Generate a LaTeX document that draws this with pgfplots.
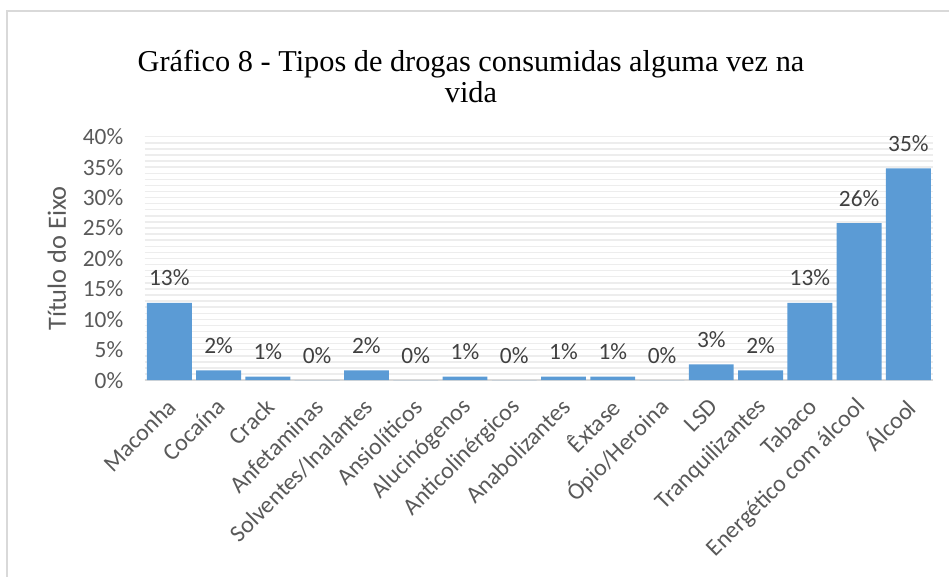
\documentclass[border=0pt]{standalone}
\usepackage{pgfplots}
\pgfplotsset{compat=1.18}
\usepackage{fontspec}
\setmainfont{Carlito}
\newfontfamily\titlefont{Liberation Serif}
\definecolor{barblue}{HTML}{5B9BD5}
\definecolor{txtgray}{HTML}{595959}
\definecolor{lblgray}{HTML}{404040}
\definecolor{gridgray}{HTML}{EDEDED}
\definecolor{framegray}{HTML}{D9D9D9}
\begin{document}
\begin{tikzpicture}
\begin{axis}[
  at={(145bp,197bp)}, anchor=south west,
  scale only axis, width=790bp, height=244bp,
  xmin=-0.5, xmax=15.5, ymin=0, ymax=40,
  ytick={0,5,...,40},
  minor ytick={0,1,...,40},
  /pgf/number format/assume math mode=true,
  yticklabel={\pgfmathprintnumber{\tick}\%},
  ymajorgrids, yminorgrids,
  major grid style={gridgray, line width=1.4bp},
  minor grid style={gridgray, line width=1.4bp},
  axis line style={draw=none},
  major tick length=0pt, minor tick length=0pt,
  xtick=data,
  xticklabels={Maconha,Cocaína,Crack,Anfetaminas,Solventes/Inalantes,Ansiolíticos,Alucinógenos,Anticolinérgicos,Anabolizantes,Êxtase,Ópio/Heroina,LSD,Tranquilizantes,Tabaco,Energético com álcool,Álcool},
  xticklabel style={rotate=45, anchor=east, font=\fontsize{24}{27}\selectfont, text=txtgray, xshift=-11bp, yshift=-18bp},
  yticklabel style={font=\fontsize{23.5}{27}\selectfont, text=txtgray, xshift=-18bp},
  ylabel={Título do Eixo},
  every axis y label/.style={at={(axis description cs:0,0.5)}, rotate=90, anchor=center, yshift=88bp, font=\fontsize{26.5}{30}\selectfont, text=txtgray},
  ybar, bar width=0.91,
  nodes near coords,
  point meta=explicit symbolic,
  every node near coord/.append style={font=\fontsize{23.5}{27}\selectfont, text=lblgray, anchor=center, yshift=25bp},
  clip=false,
]
\draw[framegray, line width=2bp] (axis cs:-0.5,0) -- (axis cs:15.5,0);
\addplot[fill=barblue, draw=none] table[x=x, y=y, meta=lab] {
x y lab
0 12.7 13\%
1 1.6 2\%
2 0.6 1\%
3 0 0\%
4 1.6 2\%
5 0 0\%
6 0.6 1\%
7 0 0\%
8 0.6 1\%
9 0.6 1\%
10 0 0\%
11 2.6 3\%
12 1.6 2\%
13 12.7 13\%
14 25.8 26\%
15 34.8 35\%
};
\end{axis}
\draw[framegray, line width=2bp] (7bp,0bp) -- (7bp,567bp) -- (951bp,567bp);
\node[font=\titlefont\fontsize{30.5}{31}\selectfont, align=center, text=black] at (472bp,501bp) {Gráfico 8 - Tipos de drogas consumidas alguma vez na\\vida};
\path[use as bounding box] (0bp,0bp) rectangle (950bp,578bp);
\end{tikzpicture}
\end{document}
